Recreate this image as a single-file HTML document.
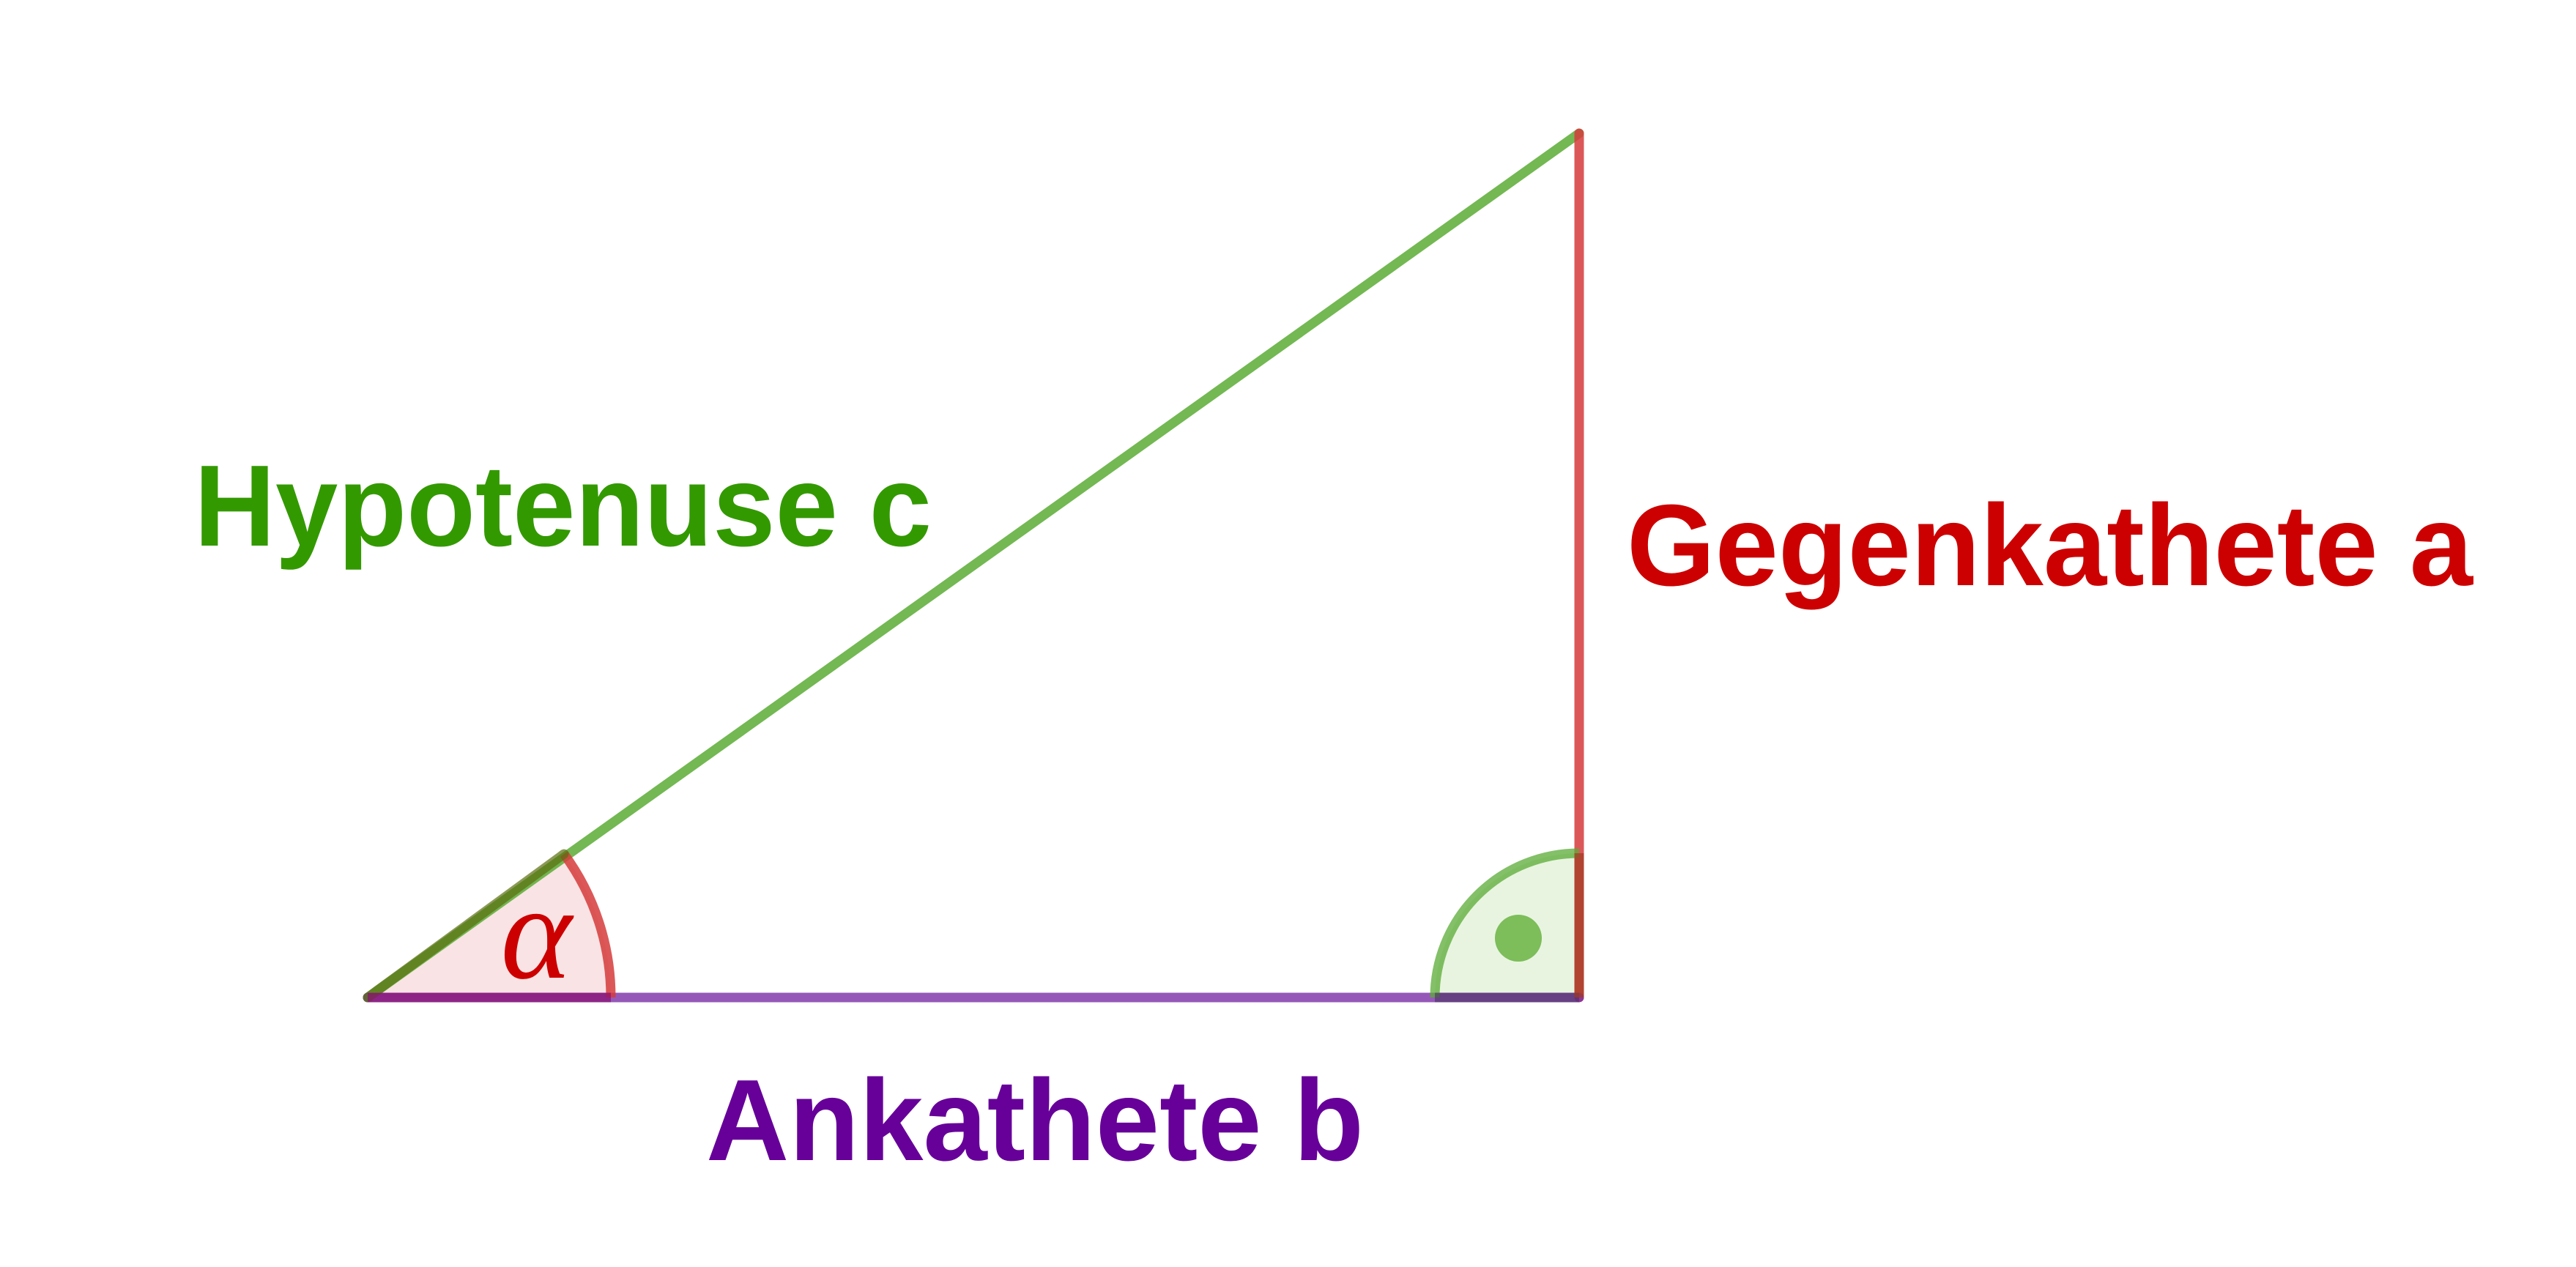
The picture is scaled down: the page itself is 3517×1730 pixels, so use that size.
<!DOCTYPE html>
<html><head><meta charset="utf-8"><style>html,body{margin:0;padding:0;background:#fff}svg{display:block}</style></head>
<body>
<svg width="3517" height="1730" viewBox="0 0 3517 1730" xmlns="http://www.w3.org/2000/svg">
  <path d="M502,1362 L770,1166 A332,332 0 0 1 834,1362 Z" fill="#f9e3e4"/>
  <path d="M2156,1362 L1959,1362 A197,197 0 0 1 2156,1165 Z" fill="#e8f4e0"/>
  <line x1="502" y1="1362" x2="2156" y2="182" stroke="#5aab35" stroke-opacity="0.85" stroke-width="13" stroke-linecap="round"/>
  <line x1="2156" y1="182" x2="2156" y2="1362" stroke="#d63b3b" stroke-opacity="0.85" stroke-width="13" stroke-linecap="round"/>
  <line x1="502" y1="1362" x2="2156" y2="1362" stroke="#7a2ea8" stroke-opacity="0.8" stroke-width="13" stroke-linecap="round"/>
  <path d="M770,1166 A332,332 0 0 1 834,1362" fill="none" stroke="#d63b3b" stroke-opacity="0.85" stroke-width="13"/>
  <line x1="502" y1="1362" x2="770" y2="1166" stroke="#5a6e10" stroke-opacity="0.7" stroke-width="13" stroke-linecap="round"/>
  <line x1="502" y1="1362" x2="834" y2="1362" stroke="#8a1070" stroke-opacity="0.7" stroke-width="13"/>
  <path d="M1959,1362 A197,197 0 0 1 2156,1165" fill="none" stroke="#5aab35" stroke-opacity="0.75" stroke-width="13"/>
  <line x1="1959" y1="1362" x2="2156" y2="1362" stroke="#4a3060" stroke-opacity="0.6" stroke-width="13"/>
  <line x1="2156" y1="1165" x2="2156" y2="1362" stroke="#a03a20" stroke-opacity="0.7" stroke-width="13"/>
  <circle cx="2073" cy="1281" r="32" fill="#7dbd5a"/>
  <text x="732" y="1335" text-anchor="middle" font-family="Liberation Serif, serif" font-style="italic" font-size="185" fill="#cc0000">α</text>
  <text x="265" y="745" font-family="Liberation Sans, sans-serif" font-weight="bold" font-size="158" fill="#339900" textLength="1007" lengthAdjust="spacingAndGlyphs">Hypotenuse c</text>
  <text x="2221" y="799" font-family="Liberation Sans, sans-serif" font-weight="bold" font-size="158" fill="#cc0000" textLength="1155" lengthAdjust="spacingAndGlyphs">Gegenkathete a</text>
  <text x="964" y="1584" font-family="Liberation Sans, sans-serif" font-weight="bold" font-size="158" fill="#660099" textLength="898" lengthAdjust="spacingAndGlyphs">Ankathete b</text>
</svg>
</body></html>
